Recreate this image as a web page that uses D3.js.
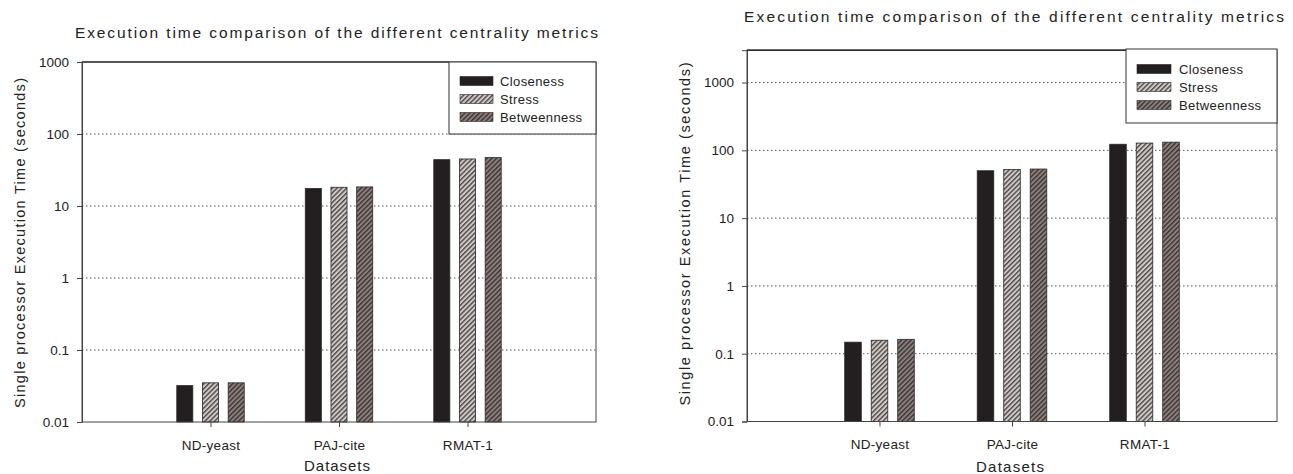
<!DOCTYPE html>
<html>
<head>
<meta charset="utf-8">
<script src="https://cdn.jsdelivr.net/npm/d3@7/dist/d3.min.js"></script>
<style>
  html, body { margin: 0; padding: 0; background: #fff; }
  svg { display: block; }
  text { font-family: "Liberation Sans", Arial, sans-serif; fill: #222; }
</style>
</head>
<body>
<svg id="chart" width="1293" height="474"></svg>
<script>
// ---- Data ----
const categories = ["ND-yeast", "PAJ-cite", "RMAT-1"];
const seriesNames = ["Closeness", "Stress", "Betweenness"];
const chartTitle = "Execution time comparison of the different centrality metrics";
const xAxisTitle = "Datasets";
const yAxisTitle = "Single processor Execution Time (seconds)";

// Left chart values (seconds)
const leftCloseness   = [0.032, 17.5, 44];
const leftStress      = [0.035, 18.2, 45];
const leftBetweenness = [0.035, 18.4, 47];
const leftTicks       = [0.01, 0.1, 1, 10, 100, 1000];
const leftTickLabels  = ["0.01", "0.1", "1", "10", "100", "1000"];

// Right chart values (seconds)
const rightCloseness   = [0.148, 50, 123];
const rightStress      = [0.158, 52, 128];
const rightBetweenness = [0.163, 53, 132];
const rightTicks       = [0.01, 0.1, 1, 10, 100, 1000];
const rightTickLabels  = ["0.01", "0.1", "1", "10", "100", "1000"];

// ---- Drawing ----
const svg = d3.select("#chart");
const defs = svg.append("defs");

function hatch(id, base, stripe) {
  const p = defs.append("pattern").attr("id", id)
    .attr("patternUnits", "userSpaceOnUse")
    .attr("width", 3.4).attr("height", 3.4)
    .attr("patternTransform", "rotate(45)");
  p.append("rect").attr("width", 3.4).attr("height", 3.4).attr("fill", base);
  p.append("rect").attr("x", 0).attr("width", 1.4).attr("height", 3.4).attr("fill", stripe);
}
hatch("hStress", "#cfc9c7", "#4d4747");
hatch("hBetw", "#8b807e", "#3b3434");
const fills = ["#231f20", "url(#hStress)", "url(#hBetw)"];

function drawChart(cfg) {
  const g = svg.append("g");
  const x = d3.scaleLinear().domain([0, categories.length + 1]).range([cfg.left, cfg.right]);
  const y = d3.scaleLog().domain(cfg.yDomain).range([cfg.bottom, cfg.top]);
  const unit = x(1) - x(0);

  // gridlines
  g.append("g").selectAll("line").data(cfg.ticks.filter(t => y(t) > cfg.top + 1 && y(t) < cfg.bottom - 1))
    .join("line")
    .attr("x1", cfg.left).attr("x2", cfg.right)
    .attr("y1", d => y(d)).attr("y2", d => y(d))
    .attr("stroke", "#555").attr("stroke-width", 1)
    .attr("stroke-dasharray", "1.5,2.5");

  // bars
  cfg.series.forEach((vals, j) => {
    g.append("g").selectAll("rect").data(vals).join("rect")
      .attr("x", (d, i) => x(i + 1) + (j - 1) * 0.2 * unit - 0.0625 * unit)
      .attr("width", 0.125 * unit)
      .attr("y", d => y(d))
      .attr("height", d => y(cfg.yDomain[0]) - y(d))
      .attr("fill", fills[j])
      .attr("stroke", "#2a2626").attr("stroke-width", 0.8);
  });

  // frame
  g.append("rect")
    .attr("x", cfg.left).attr("y", cfg.top)
    .attr("width", cfg.right - cfg.left).attr("height", cfg.bottom - cfg.top)
    .attr("fill", "none").attr("stroke", "#444").attr("stroke-width", 1);
  g.append("line").attr("x1", cfg.left).attr("x2", cfg.legX)
    .attr("y1", cfg.top).attr("y2", cfg.top).attr("stroke", "#111").attr("stroke-width", 1.2);

  // y axis
  const yAxis = d3.axisLeft(y).tickValues(cfg.ticks)
    .tickFormat((d, i) => cfg.tickLabels[i]).tickSize(5).tickPadding(8);
  const ya = g.append("g").attr("transform", `translate(${cfg.left},0)`).call(yAxis);
  ya.select(".domain").attr("stroke", "#444");
  ya.selectAll(".tick line").attr("stroke", "#444");
  ya.selectAll(".tick text").attr("font-size", 13.5).attr("fill", "#222")
    .attr("font-family", "Liberation Sans, Arial, sans-serif");

  // x axis
  const xAxis = d3.axisBottom(x).tickValues(categories.map((c, i) => i + 1))
    .tickFormat((d) => categories[d - 1]).tickSize(5).tickPadding(13);
  const xa = g.append("g").attr("transform", `translate(0,${cfg.bottom})`).call(xAxis);
  xa.select(".domain").remove();
  xa.selectAll(".tick line").attr("stroke", "#444");
  xa.selectAll(".tick text").attr("font-size", 13.5).attr("fill", "#222")
    .attr("letter-spacing", 0.3)
    .attr("font-family", "Liberation Sans, Arial, sans-serif");

  // titles
  g.append("text").attr("x", cfg.titleX).attr("y", cfg.titleY)
    .attr("text-anchor", "middle").attr("font-size", 15.5)
    .attr("textLength", cfg.titleLen).attr("lengthAdjust", "spacing")
    .text(chartTitle);
  g.append("text").attr("x", (cfg.left + cfg.right) / 2 - 2).attr("y", cfg.xTitleY)
    .attr("text-anchor", "middle").attr("font-size", 15)
    .attr("textLength", cfg.xTitleLen).attr("lengthAdjust", "spacing")
    .text(xAxisTitle);
  g.append("text")
    .attr("transform", `translate(${cfg.yTitleX},${cfg.yTitleCY}) rotate(-90)`)
    .attr("text-anchor", "middle").attr("font-size", 14.5)
    .attr("textLength", cfg.yTitleLen).attr("lengthAdjust", "spacing")
    .text(yAxisTitle);

  // legend
  const lg = g.append("g");
  lg.append("rect").attr("x", cfg.legX).attr("y", cfg.legY)
    .attr("width", cfg.right - cfg.legX).attr("height", cfg.legH)
    .attr("fill", "#fff").attr("stroke", "#333").attr("stroke-width", 1);
  seriesNames.forEach((name, j) => {
    const cy = cfg.legRow0 + j * 18;
    lg.append("rect").attr("x", cfg.legX + 11).attr("y", cy - 4.5)
      .attr("width", cfg.swW).attr("height", 9)
      .attr("fill", fills[j]).attr("stroke", "#2a2626").attr("stroke-width", 0.6);
    lg.append("text").attr("x", cfg.legX + cfg.legTextOff).attr("y", cy + 4.5)
      .attr("font-size", 13).attr("letter-spacing", 0.4).text(name);
  });
}

drawChart({
  left: 82, right: 596, top: 62, bottom: 422,
  yDomain: [0.01, 1000], ticks: leftTicks, tickLabels: leftTickLabels,
  series: [leftCloseness, leftStress, leftBetweenness],
  titleX: 336.5, titleY: 38, titleLen: 523,
  xTitleY: 471, xTitleLen: 66,
  yTitleX: 25, yTitleCY: 243, yTitleLen: 330,
  legX: 449, legY: 62, legH: 72, legRow0: 81, swW: 33, legTextOff: 51
});

drawChart({
  left: 747, right: 1277, top: 50.2, bottom: 421.5,
  yDomain: [0.01, 3000], ticks: rightTicks, tickLabels: rightTickLabels,
  series: [rightCloseness, rightStress, rightBetweenness],
  titleX: 1014, titleY: 22, titleLen: 540,
  xTitleY: 472, xTitleLen: 68,
  yTitleX: 690, yTitleCY: 234, yTitleLen: 343,
  legX: 1126, legY: 49, legH: 74, legRow0: 69, swW: 34, legTextOff: 53
});
</script>
</body>
</html>
